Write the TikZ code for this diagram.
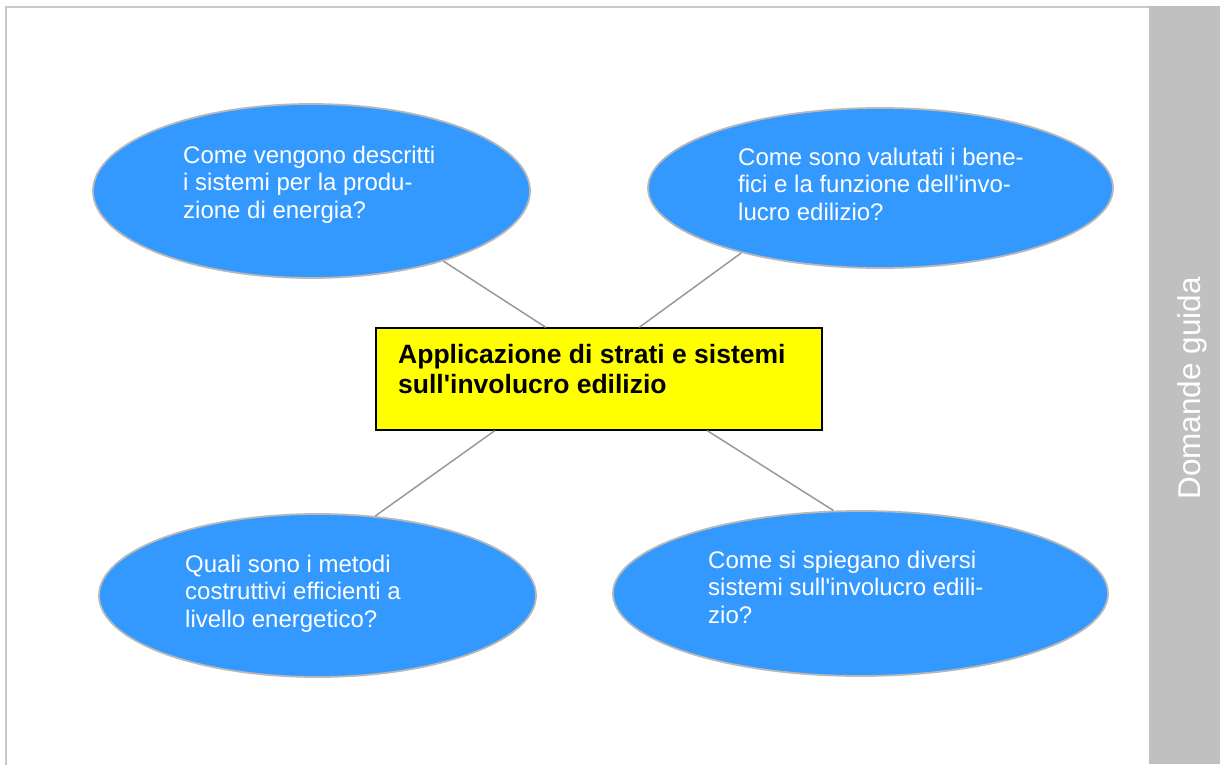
\documentclass[tikz,border=0pt]{standalone}
\usepackage{fontspec}
\setmainfont{Liberation Sans}
\usetikzlibrary{shapes.geometric,calc}
\definecolor{ellblue}{HTML}{3399FF}
\definecolor{ellborder}{HTML}{B8B8B8}
\definecolor{linkgray}{HTML}{999999}
\definecolor{framegray}{HTML}{C8C8C8}
\definecolor{bargray}{HTML}{C0C0C0}
\definecolor{boxyellow}{HTML}{FFFF00}
\newcommand{\apo}{\textquotesingle}
\tikzset{
  question/.style={ellipse, fill=ellblue, draw=ellborder, line width=1.8pt, inner sep=0pt},
  qtext/.style={anchor=base west, inner sep=0pt, align=left, text=white,
    font=\fontsize{24}{27.5}\selectfont},
  topic/.style={rectangle, fill=boxyellow, draw=black, line width=1.3pt, inner sep=0pt,
    minimum width=446pt, minimum height=102pt},
  topictext/.style={anchor=base west, inner sep=0pt, align=left, text=black,
    font=\fontsize{26.5}{30}\selectfont\bfseries},
  link/.style={draw=linkgray, line width=1.5pt},
}
\begin{document}
\begin{tikzpicture}[x=1pt,y=-1pt]
\useasboundingbox (0,0) rectangle (1220,765);
% frame and side bar
\fill[bargray] (1149,6) rectangle (1220,764);
\draw[framegray, line width=2pt] (6,765) -- (6,7) -- (1149,7);
\node[anchor=base, rotate=90, inner sep=0pt, text=white,
  font=\fontsize{31.5}{36}\selectfont] (side) at (1200.5,388.5) {Domande guida};
% central topic
\node[topic] (box) at (599,379) {};
% questions
\node[question, minimum width=437pt, minimum height=174pt] (e1) at (311.5,191) {};
\node[question, minimum width=465pt, minimum height=160pt] (e2) at (880.5,188) {};
\node[question, minimum width=437pt, minimum height=163pt] (e3) at (317.5,595.5) {};
\node[question, minimum width=495pt, minimum height=165pt] (e4) at (860.5,593.5) {};
% connectors
\draw[link] (e1.-28.4) -- ($(box.north west)!0.381!(box.north east)$);
\draw[link] (e2.205.8) -- ($(box.north west)!0.59!(box.north east)$);
\draw[link] (e3.54.7) -- ($(box.south west)!0.267!(box.south east)$);
\draw[link] (e4.108.4) -- ($(box.south west)!0.742!(box.south east)$);
% texts (anchored at the baseline of the last line)
\node[topictext] (tbox) at (398,393) {Applicazione di strati e sistemi\\sull\apo involucro edilizio};
\node[qtext] (t1) at (183,218) {Come vengono descritti\\i sistemi per la produ-\\zione di energia?};
\node[qtext] (t2) at (738,220) {Come sono valutati i bene-\\fici e la funzione dell\apo invo-\\lucro edilizio?};
\node[qtext] (t3) at (185,627) {Quali sono i metodi\\costruttivi efficienti a\\livello energetico?};
\node[qtext] (t4) at (708,623) {Come si spiegano diversi\\sistemi sull\apo involucro edili-\\zio?};
\end{tikzpicture}
\end{document}
